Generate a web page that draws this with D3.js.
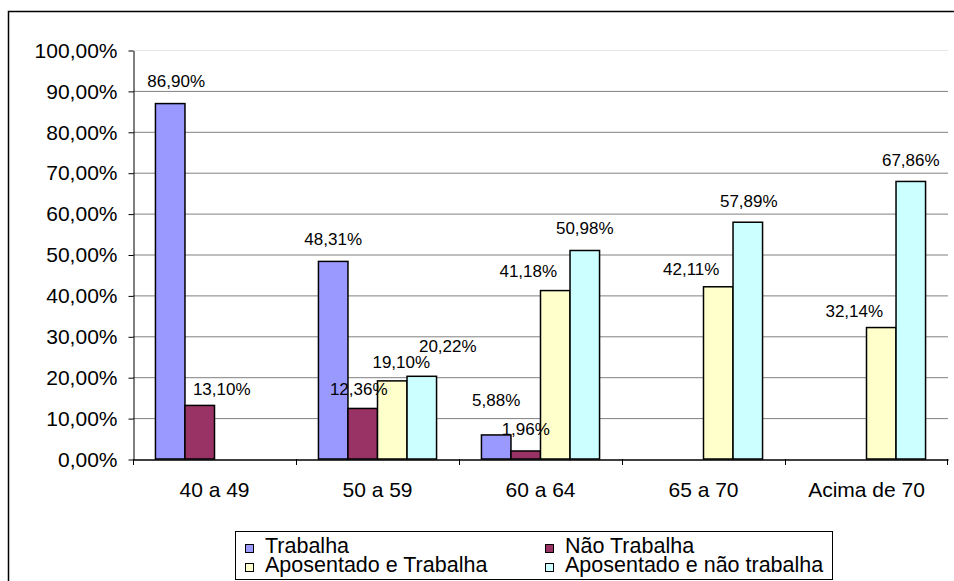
<!DOCTYPE html>
<html>
<head>
<meta charset="utf-8">
<script src="https://cdn.jsdelivr.net/npm/d3@7"></script>
<style>
  body { margin: 0; background: #fff; }
  svg { display: block; font-family: "Liberation Sans", Arial, sans-serif; }
</style>
</head>
<body>
<div id="chart"></div>
<script>
// data (percent)
var categories = ["40 a 49", "50 a 59", "60 a 64", "65 a 70", "Acima de 70"];
var seriesNames = ["Trabalha", "Não Trabalha", "Aposentado e Trabalha", "Aposentado e não trabalha"];
var trabalha    = [86.90, 48.31, 5.88, null, null];
var naoTrabalha = [13.10, 12.36, 1.96, null, null];
var apTrabalha  = [null, 19.10, 41.18, 42.11, 32.14];
var apNaoTrab   = [null, 20.22, 50.98, 57.89, 67.86];
var yTicks = [0, 10, 20, 30, 40, 50, 60, 70, 80, 90, 100];

var seriesValues = [trabalha, naoTrabalha, apTrabalha, apNaoTrab];
var colors = ["#9999ff", "#993366", "#ffffcc", "#ccffff"];

// small label nudges [dx, dy] per series/category, as placed in the original
var labelNudge = [
  [[6, -2], [0, -1], [0, -14], null, null],
  [[22, 5], [-4, 2], [0, -1], null, null],
  [null, [9, 2], [-27, 1], [-27, 3], [-27, 4]],
  [null, [26, -9], [0, -1], [1, 0], [0, 0]]
];

var W = 954, H = 581;
var pLeft = 133, pRight = 948, pTop = 50, pBottom = 459;

var br = d3.formatLocale({decimal: ",", thousands: ".", grouping: [3], currency: ["R$", ""]});
var fmt = br.format(".2f");
var pct = function(v) { return fmt(v) + "%"; };

var svg = d3.select("#chart").append("svg")
    .attr("width", W)
    .attr("height", H);

svg.append("rect")
    .attr("x", 8.5).attr("y", 11.5)
    .attr("width", 960).attr("height", 600)
    .attr("fill", "#fff")
    .attr("stroke", "#000")
    .attr("stroke-width", 1.5);

var x0 = d3.scaleBand().domain(categories).range([pLeft, pRight]).padding(0);
var x1 = d3.scaleBand().domain(d3.range(4)).range([0, x0.bandwidth()])
    .paddingInner(0).paddingOuter(0.76);
var y = d3.scaleLinear().domain([0, 100]).range([pBottom, pTop]);

// gridlines
svg.append("g").selectAll("line")
  .data(yTicks.filter(function(t) { return t > 0; }))
  .enter().append("line")
    .attr("x1", pLeft).attr("x2", pRight)
    .attr("y1", function(d) { return y(d) + 0.5; })
    .attr("y2", function(d) { return y(d) + 0.5; })
    .attr("stroke", function(d) { return d === 100 ? "#e6e6e6" : "#808080"; })
    .attr("stroke-width", 1);

// bars
var rows = [];
seriesValues.forEach(function(vals, s) {
  vals.forEach(function(v, c) {
    if (v !== null) rows.push({s: s, c: c, v: v});
  });
});

svg.append("g").selectAll("rect")
  .data(rows)
  .enter().append("rect")
    .attr("x", function(d) { return x0(categories[d.c]) + x1(d.s); })
    .attr("y", function(d) { return y(d.v); })
    .attr("width", x1.bandwidth())
    .attr("height", function(d) { return y(0) - y(d.v); })
    .attr("fill", function(d) { return colors[d.s]; })
    .attr("stroke", "#000")
    .attr("stroke-width", 1.5);

// data labels
svg.append("g").selectAll("text")
  .data(rows)
  .enter().append("text")
    .attr("x", function(d) {
      var n = labelNudge[d.s][d.c] || [0, 0];
      return x0(categories[d.c]) + x1(d.s) + x1.bandwidth() / 2 + n[0];
    })
    .attr("y", function(d) {
      var n = labelNudge[d.s][d.c] || [0, 0];
      return y(d.v) - 15 + n[1];
    })
    .attr("text-anchor", "middle")
    .attr("font-size", 17)
    .attr("fill", "#000")
    .text(function(d) { return pct(d.v); });

// y axis
var yAxis = svg.append("g")
    .attr("transform", "translate(" + (pLeft + 0.5) + ",0.5)")
    .call(d3.axisLeft(y).tickValues(yTicks).tickSize(5).tickSizeOuter(0).tickPadding(11)
      .tickFormat(pct));
yAxis.select(".domain").attr("stroke", "#000");
yAxis.selectAll("line").attr("stroke", "#000");
yAxis.selectAll("text").attr("font-size", 21).attr("fill", "#000").attr("font-family", null);

// x axis
var xAxis = svg.append("g")
    .attr("transform", "translate(0," + (pBottom + 0.5) + ")")
    .call(d3.axisBottom(x0).tickSize(0).tickSizeOuter(0).tickPadding(23));
xAxis.select(".domain").attr("stroke", "#000").attr("stroke-width", 1.5);
xAxis.selectAll("text").attr("font-size", 21).attr("fill", "#000").attr("font-family", null);

// boundary ticks between categories
svg.append("g").selectAll("line")
  .data(categories.concat(["end"]))
  .enter().append("line")
    .attr("x1", function(d, i) { return i < categories.length ? x0(d) + 0.5 : pRight - 0.5; })
    .attr("x2", function(d, i) { return i < categories.length ? x0(d) + 0.5 : pRight - 0.5; })
    .attr("y1", pBottom).attr("y2", pBottom + 6)
    .attr("stroke", "#000");

// legend
var legend = svg.append("g");
legend.append("rect")
    .attr("x", 235.5).attr("y", 531.5)
    .attr("width", 597).attr("height", 48)
    .attr("fill", "#fff")
    .attr("stroke", "#000");

var colX = [245, 545], rowY = [544, 563];
var items = legend.selectAll("g.item")
  .data(seriesNames)
  .enter().append("g")
    .attr("class", "item")
    .attr("transform", function(d, i) {
      return "translate(" + colX[i % 2] + "," + rowY[Math.floor(i / 2)] + ")";
    });
items.append("rect")
    .attr("x", 0.5).attr("y", 0.5)
    .attr("width", 8).attr("height", 8)
    .attr("fill", function(d, i) { return colors[i]; })
    .attr("stroke", "#000");
items.append("text")
    .attr("x", 20).attr("y", 9)
    .attr("font-size", 21.5)
    .attr("fill", "#000")
    .text(function(d) { return d; });
</script>
</body>
</html>
